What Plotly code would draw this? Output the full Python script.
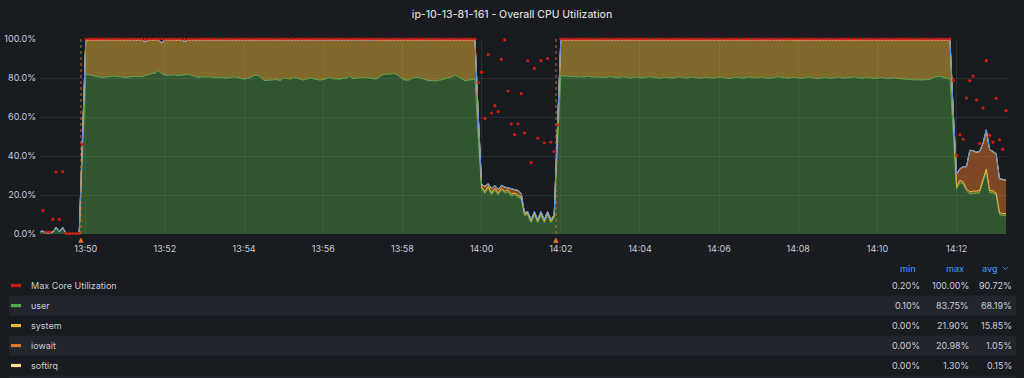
import plotly.graph_objects as go
import pandas as pd

# ---------------- data (5 s samples) ----------------
START = "2023-05-10 13:48:50"
STEP = "5s"

user = [
    # idle 13:48:50 - 13:49:55
    1.0, 1.2, 0.2, 0.4, 0.8, 2.9, 1.0, 2.9, 0.2, 0.1, 0.1, 0.1, 0.1, 40.0,
    # load run 1
    81.9, 81.7, 81.3, 81.1, 80.6, 80.1, 80.5, 80.8, 80.9, 81.0,
    80.7, 80.3, 80.2, 80.5, 80.8, 80.8, 80.6, 80.7, 81.2, 81.9,
    82.2, 82.6, 83.75, 82.2, 81.4, 81.4, 81.6, 81.6, 81.3, 81.4,
    81.7, 81.8, 81.4, 80.9, 80.3, 80.5, 80.6, 80.6, 80.4, 80.2,
    80.3, 80.2, 80.0, 79.9, 80.3, 80.6, 80.3, 80.0, 79.4, 79.7,
    80.6, 81.2, 81.4, 80.5, 78.7, 78.9, 78.9, 79.0, 79.2,
    78.6, 80.0, 79.8, 79.4, 80.2, 79.6, 79.4, 78.9, 79.3, 80.0,
    79.6, 79.2, 78.9, 79.2, 79.6, 80.2, 79.6, 79.4, 79.4, 79.8,
    80.0, 80.9, 79.6, 79.9, 80.3, 80.3, 80.2, 79.9, 79.6, 79.4,
    80.6, 81.6, 82.0, 81.9, 82.2, 82.0, 80.9, 79.4, 78.9, 78.9,
    79.9, 80.3, 80.2, 79.6, 79.4, 78.7, 78.6, 78.4, 78.7, 79.2,
    79.5, 80.0, 80.6, 81.5, 80.6, 79.4, 78.6, 78.9, 79.2, 79.5,
    # gap 1
    48.0, 23.0, 20.8, 23.5, 20.0, 22.5, 20.0, 22.5, 21.0, 21.5,
    19.5, 20.0, 19.0, 18.0, 9.5, 9.8, 5.8, 9.8, 5.8, 9.8,
    5.8, 9.8, 5.8, 8.3, 44.0,
    # load run 2
    81.2, 80.9, 81.0, 80.6, 80.8, 80.4, 80.7, 80.5, 80.9, 80.6,
    80.3, 80.6, 80.4, 80.2, 80.5, 80.8, 80.4, 80.1, 80.3, 80.6,
    80.2, 79.9, 80.3, 80.5, 80.2, 80.0, 80.4, 80.7, 80.3, 80.1,
    79.8, 80.2, 80.4, 80.1, 79.9, 80.3, 80.6, 80.2, 80.0, 80.3,
    80.5, 80.1, 79.8, 80.0, 80.4, 80.2, 79.9, 80.1, 80.5, 80.3,
    80.0, 79.7, 80.1, 80.4, 80.2, 79.9, 80.2, 80.6, 80.3, 80.0,
    80.2, 80.5, 80.1, 79.8, 80.0, 80.3, 80.6, 80.4, 80.1, 79.9,
    80.2, 80.4, 80.0, 79.8, 80.1, 80.5, 80.3, 80.0, 79.7, 80.0,
    80.3, 80.1, 79.8, 80.2, 80.5, 80.2, 79.9, 80.1, 80.4, 80.6,
    80.2, 79.9, 80.1, 80.3, 80.0, 79.7, 79.9, 80.2, 80.0, 79.6,
    79.9, 80.1, 79.8, 79.6, 79.4, 79.3, 79.2, 79.0, 79.1, 78.9,
    79.0, 79.2, 79.4, 80.2, 80.8, 80.8, 80.2, 79.8, 79.6,
    # gap 2
    50.0, 23.0, 26.4, 25.5, 22.1, 20.4, 20.8, 20.8, 21.2, 26.4,
    32.1, 21.2, 21.0, 19.8, 9.9, 9.4, 9.4,
]

system = [
    0.2, 0.3, 0.1, 0.1, 0.3, 0.5, 0.2, 0.5, 0.1, 0.0, 0.0, 0.0, 0.0, 9.5,
    17.5, 17.7, 18.1, 18.3, 18.8, 19.3, 18.9, 18.6, 18.5, 18.4,
    18.7, 19.1, 19.2, 18.9, 18.6, 18.6, 18.8, 18.7, 17.4, 17.5,
    17.2, 16.8, 15.6, 15.8, 18.0, 18.0, 17.8, 17.8, 18.1, 18.0,
    17.0, 17.6, 18.0, 18.5, 19.1, 18.9, 18.8, 18.8, 19.0, 19.2,
    19.1, 19.2, 19.4, 19.5, 19.1, 18.8, 19.1, 19.4, 20.0, 19.7,
    18.8, 18.2, 18.0, 18.9, 20.7, 20.5, 20.5, 20.4, 20.2,
    20.8, 19.4, 19.6, 20.0, 19.2, 19.8, 20.0, 20.5, 20.1, 19.4,
    19.8, 20.2, 20.5, 20.2, 19.8, 19.2, 19.8, 20.0, 20.0, 19.6,
    19.4, 18.5, 19.8, 19.3, 18.8, 18.9, 19.2, 19.3, 19.5, 20.0,
    18.8, 17.8, 17.4, 17.5, 17.2, 17.4, 18.5, 20.0, 20.5, 20.5,
    19.5, 19.1, 19.2, 19.8, 20.0, 20.7, 20.8, 21.0, 20.7, 20.2,
    19.9, 19.4, 18.8, 17.9, 18.8, 20.0, 20.8, 20.5, 20.2, 19.9,
    12.0, 1.0, 1.1, 1.0, 1.1, 1.0, 1.1, 1.0, 1.0, 1.0,
    1.1, 1.0, 1.1, 1.0, 0.8, 0.9, 0.8, 0.9, 0.8, 0.9,
    0.8, 0.9, 0.8, 0.8, 10.5,
    18.2, 18.5, 18.4, 18.8, 18.6, 19.0, 18.7, 18.9, 18.5, 18.8,
    19.1, 18.8, 19.0, 19.2, 18.9, 18.6, 19.0, 19.3, 19.1, 18.8,
    19.2, 19.5, 19.1, 18.9, 19.2, 19.4, 19.0, 18.7, 19.1, 19.3,
    19.6, 19.2, 19.0, 19.3, 19.5, 19.1, 18.8, 19.2, 19.4, 19.1,
    18.9, 19.3, 19.6, 19.4, 19.0, 19.2, 19.5, 19.3, 18.9, 19.1,
    19.4, 19.7, 19.3, 19.0, 19.2, 19.5, 19.2, 18.8, 19.1, 19.4,
    19.2, 18.9, 19.3, 19.6, 19.4, 19.1, 18.8, 19.0, 19.3, 19.5,
    19.2, 19.0, 19.4, 19.6, 19.3, 18.9, 19.1, 19.4, 19.7, 19.4,
    19.1, 19.3, 19.6, 19.2, 18.9, 19.2, 19.5, 19.3, 19.0, 18.8,
    19.2, 19.5, 19.3, 19.1, 19.4, 19.7, 19.5, 19.2, 19.4, 19.8,
    19.5, 19.3, 19.6, 19.8, 20.0, 20.1, 20.2, 20.4, 20.3, 20.5,
    20.4, 20.2, 20.0, 19.2, 18.6, 18.6, 19.2, 19.6, 19.8,
    11.5, 1.1, 1.2, 1.2, 1.2, 1.2, 1.2, 1.2, 1.2, 1.2,
    1.3, 1.2, 1.2, 1.2, 1.1, 1.1, 1.1,
]

iowait = [
    0.0, 0.0, 0.0, 0.0, 0.0, 0.0, 0.0, 0.0, 0.0, 0.0, 0.0, 0.0, 0.0, 0.0,
    0.0, 0.0, 0.0, 0.0, 0.0, 0.0, 0.0, 0.0, 0.0, 0.0,
    0.0, 0.0, 0.0, 0.0, 0.0, 0.0, 0.0, 0.0, 0.0, 0.0,
    0.0, 0.0, 0.0, 0.0, 0.0, 0.0, 0.0, 0.0, 0.0, 0.0,
    0.0, 0.0, 0.0, 0.0, 0.0, 0.0, 0.0, 0.0, 0.0, 0.0,
    0.0, 0.0, 0.0, 0.0, 0.0, 0.0, 0.0, 0.0, 0.0, 0.0,
    0.0, 0.0, 0.0, 0.0, 0.0, 0.0, 0.0, 0.0, 0.0,
    0.0, 0.0, 0.0, 0.0, 0.0, 0.0, 0.0, 0.0, 0.0, 0.0,
    0.0, 0.0, 0.0, 0.0, 0.0, 0.0, 0.0, 0.0, 0.0, 0.0,
    0.0, 0.0, 0.0, 0.0, 0.0, 0.0, 0.0, 0.0, 0.0, 0.0,
    0.0, 0.0, 0.0, 0.0, 0.0, 0.0, 0.0, 0.0, 0.0, 0.0,
    0.0, 0.0, 0.0, 0.0, 0.0, 0.0, 0.0, 0.0, 0.0, 0.0,
    0.0, 0.0, 0.0, 0.0, 0.0, 0.0, 0.0, 0.0, 0.0, 0.0,
    0.3, 1.2, 2.3, 1.1, 2.1, 1.2, 1.6, 1.2, 1.9, 1.0,
    2.4, 1.5, 2.0, 1.7, 0.4, 0.6, 0.6, 0.6, 0.6, 0.6,
    0.6, 0.6, 0.6, 0.6, 0.2,
    0.0, 0.0, 0.0, 0.0, 0.0, 0.0, 0.0, 0.0, 0.0, 0.0,
    0.0, 0.0, 0.0, 0.0, 0.0, 0.0, 0.0, 0.0, 0.0, 0.0,
    0.0, 0.0, 0.0, 0.0, 0.0, 0.0, 0.0, 0.0, 0.0, 0.0,
    0.0, 0.0, 0.0, 0.0, 0.0, 0.0, 0.0, 0.0, 0.0, 0.0,
    0.0, 0.0, 0.0, 0.0, 0.0, 0.0, 0.0, 0.0, 0.0, 0.0,
    0.0, 0.0, 0.0, 0.0, 0.0, 0.0, 0.0, 0.0, 0.0, 0.0,
    0.0, 0.0, 0.0, 0.0, 0.0, 0.0, 0.0, 0.0, 0.0, 0.0,
    0.0, 0.0, 0.0, 0.0, 0.0, 0.0, 0.0, 0.0, 0.0, 0.0,
    0.0, 0.0, 0.0, 0.0, 0.0, 0.0, 0.0, 0.0, 0.0, 0.0,
    0.0, 0.0, 0.0, 0.0, 0.0, 0.0, 0.0, 0.0, 0.0, 0.0,
    0.0, 0.0, 0.0, 0.0, 0.0, 0.0, 0.0, 0.0, 0.0, 0.0,
    0.0, 0.0, 0.0, 0.0, 0.0, 0.0, 0.0, 0.0, 0.0,
    0.5, 6.5, 5.6, 7.5, 11.0, 20.98, 20.5, 19.7, 19.7, 18.6,
    18.8, 20.8, 19.8, 19.9, 17.1, 17.2, 16.8,
]

softirq = [
    0.0, 0.0, 0.0, 0.0, 0.0, 0.0, 0.0, 0.0, 0.0, 0.0, 0.0, 0.0, 0.0, 0.1,
    0.1, 0.2, 0.1, 0.1, 0.2, 0.1, 0.1, 0.2, 0.1, 0.1,
    0.2, 0.1, 0.1, 0.2, 0.1, 0.1, 0.2, 0.1, 0.1, 0.2,
    0.1, 0.1, 0.2, 0.1, 0.1, 0.2, 0.1, 0.1, 0.2, 0.1,
    0.1, 0.2, 0.1, 0.1, 0.2, 0.1, 0.1, 0.2, 0.1, 0.1,
    0.2, 0.1, 0.1, 0.2, 0.1, 0.1, 0.2, 0.1, 0.1, 0.2,
    0.1, 0.1, 0.2, 0.1, 0.1, 0.2, 0.1, 0.1, 0.2,
    0.1, 0.1, 0.2, 0.1, 0.1, 0.2, 0.1, 0.1, 0.2, 0.1,
    0.1, 0.2, 0.1, 0.1, 0.2, 0.1, 0.1, 0.2, 0.1, 0.1,
    0.2, 0.1, 0.1, 0.2, 0.1, 0.1, 0.2, 0.1, 0.1, 0.2,
    0.1, 0.1, 0.2, 0.1, 0.1, 0.2, 0.1, 0.1, 0.2, 0.1,
    0.1, 0.2, 0.1, 0.1, 0.2, 0.1, 0.1, 0.2, 0.1, 0.1,
    0.2, 0.1, 0.1, 0.2, 0.1, 0.1, 0.2, 0.1, 0.1, 0.2,
    0.2, 0.2, 0.2, 0.2, 0.2, 0.2, 0.2, 0.2, 0.2, 0.2,
    0.2, 0.2, 0.2, 0.2, 0.2, 0.2, 0.2, 0.2, 0.2, 0.2,
    0.2, 0.2, 0.2, 0.2, 0.2,
    0.1, 0.2, 0.1, 0.1, 0.2, 0.1, 0.1, 0.2, 0.1, 0.1,
    0.2, 0.1, 0.1, 0.2, 0.1, 0.1, 0.2, 0.1, 0.1, 0.2,
    0.1, 0.1, 0.2, 0.1, 0.1, 0.2, 0.1, 0.1, 0.2, 0.1,
    0.1, 0.2, 0.1, 0.1, 0.2, 0.1, 0.1, 0.2, 0.1, 0.1,
    0.2, 0.1, 0.1, 0.2, 0.1, 0.1, 0.2, 0.1, 0.1, 0.2,
    0.1, 0.1, 0.2, 0.1, 0.1, 0.2, 0.1, 0.1, 0.2, 0.1,
    0.1, 0.2, 0.1, 0.1, 0.2, 0.1, 0.1, 0.2, 0.1, 0.1,
    0.2, 0.1, 0.1, 0.2, 0.1, 0.1, 0.2, 0.1, 0.1, 0.2,
    0.1, 0.1, 0.2, 0.1, 0.1, 0.2, 0.1, 0.1, 0.2, 0.1,
    0.1, 0.2, 0.1, 0.1, 0.2, 0.1, 0.1, 0.2, 0.1, 0.1,
    0.2, 0.1, 0.1, 0.2, 0.1, 0.1, 0.2, 0.1, 0.1, 0.2,
    0.1, 0.1, 0.2, 0.1, 0.1, 0.2, 0.1, 0.1, 0.2,
    0.2, 0.3, 0.3, 0.3, 0.3, 0.3, 0.3, 0.3, 0.3, 0.4,
    1.3, 0.3, 0.3, 0.3, 0.3, 0.3, 0.3,
]

steal = [
    0.0, 0.0, 0.0, 0.0, 0.0, 0.0, 0.0, 0.0, 0.0, 0.0, 0.0, 0.0, 0.0, 0.1,
    0.1, 0.1, 0.1, 0.1, 0.1, 0.1, 0.1, 0.1, 0.1, 0.1,
    0.1, 0.1, 0.1, 0.1, 0.1, 0.1, 0.1, 0.1, 0.1, 0.1,
    0.1, 0.1, 0.1, 0.1, 0.1, 0.1, 0.1, 0.1, 0.1, 0.1,
    0.1, 0.1, 0.1, 0.1, 0.1, 0.1, 0.1, 0.1, 0.1, 0.1,
    0.1, 0.1, 0.1, 0.1, 0.1, 0.1, 0.1, 0.1, 0.1, 0.1,
    0.1, 0.1, 0.1, 0.1, 0.1, 0.1, 0.1, 0.1, 0.1,
    0.1, 0.1, 0.1, 0.1, 0.1, 0.1, 0.1, 0.1, 0.1, 0.1,
    0.1, 0.1, 0.1, 0.1, 0.1, 0.1, 0.1, 0.1, 0.1, 0.1,
    0.1, 0.1, 0.1, 0.1, 0.1, 0.1, 0.1, 0.1, 0.1, 0.1,
    0.1, 0.1, 0.1, 0.1, 0.1, 0.1, 0.1, 0.1, 0.1, 0.1,
    0.1, 0.1, 0.1, 0.1, 0.1, 0.1, 0.1, 0.1, 0.1, 0.1,
    0.1, 0.1, 0.1, 0.1, 0.1, 0.1, 0.1, 0.1, 0.1, 0.1,
    0.1, 0.1, 0.1, 0.1, 0.1, 0.1, 0.1, 0.1, 0.1, 0.1,
    0.1, 0.1, 0.1, 0.1, 0.1, 0.1, 0.1, 0.1, 0.1, 0.1,
    0.1, 0.1, 0.1, 0.1, 0.1,
    0.1, 0.1, 0.1, 0.1, 0.1, 0.1, 0.1, 0.1, 0.1, 0.1,
    0.1, 0.1, 0.1, 0.1, 0.1, 0.1, 0.1, 0.1, 0.1, 0.1,
    0.1, 0.1, 0.1, 0.1, 0.1, 0.1, 0.1, 0.1, 0.1, 0.1,
    0.1, 0.1, 0.1, 0.1, 0.1, 0.1, 0.1, 0.1, 0.1, 0.1,
    0.1, 0.1, 0.1, 0.1, 0.1, 0.1, 0.1, 0.1, 0.1, 0.1,
    0.1, 0.1, 0.1, 0.1, 0.1, 0.1, 0.1, 0.1, 0.1, 0.1,
    0.1, 0.1, 0.1, 0.1, 0.1, 0.1, 0.1, 0.1, 0.1, 0.1,
    0.1, 0.1, 0.1, 0.1, 0.1, 0.1, 0.1, 0.1, 0.1, 0.1,
    0.1, 0.1, 0.1, 0.1, 0.1, 0.1, 0.1, 0.1, 0.1, 0.1,
    0.1, 0.1, 0.1, 0.1, 0.1, 0.1, 0.1, 0.1, 0.1, 0.1,
    0.1, 0.1, 0.1, 0.1, 0.1, 0.1, 0.1, 0.1, 0.1, 0.1,
    0.1, 0.1, 0.1, 0.1, 0.1, 0.1, 0.1, 0.1, 0.1,
    0.1, 0.1, 0.1, 0.1, 0.1, 0.1, 0.1, 0.1, 0.1, 0.1,
    0.1, 0.1, 0.1, 0.1, 0.1, 0.1, 0.1,
]

max_core = [
    7.5, 12.0, 1.0, 1.0, 7.5, 31.8, 7.5, 32.0, 0.3, 0.2, 0.3, 0.2, 0.3, 46.0,
    100.0, 100.0, 100.0, 100.0, 100.0, 100.0, 100.0, 100.0, 100.0, 100.0,
    100.0, 100.0, 100.0, 100.0, 100.0, 100.0, 100.0, 100.0, 100.0, 100.0,
    100.0, 100.0, 100.0, 100.0, 100.0, 100.0, 100.0, 100.0, 100.0, 100.0,
    100.0, 100.0, 100.0, 100.0, 100.0, 100.0, 100.0, 100.0, 100.0, 100.0,
    100.0, 100.0, 100.0, 100.0, 100.0, 100.0, 100.0, 100.0, 100.0, 100.0,
    100.0, 100.0, 100.0, 100.0, 100.0, 100.0, 100.0, 100.0, 100.0,
    100.0, 100.0, 100.0, 100.0, 100.0, 100.0, 100.0, 100.0, 100.0, 100.0,
    100.0, 100.0, 100.0, 100.0, 100.0, 100.0, 100.0, 100.0, 100.0, 100.0,
    100.0, 100.0, 100.0, 100.0, 100.0, 100.0, 100.0, 100.0, 100.0, 100.0,
    100.0, 100.0, 100.0, 100.0, 100.0, 100.0, 100.0, 100.0, 100.0, 100.0,
    100.0, 100.0, 100.0, 100.0, 100.0, 100.0, 100.0, 100.0, 100.0, 100.0,
    100.0, 100.0, 100.0, 100.0, 100.0, 100.0, 100.0, 100.0, 100.0, 100.0,
    77.7, 83.0, 59.3, 92.0, 62.0, 65.8, 62.8, 89.6, 99.5, 73.3,
    56.5, 51.0, 56.5, 72.0, 51.9, 88.8, 36.7, 84.9, 49.1, 88.9,
    46.8, 90.0, 47.1, 42.3, 56.0,
    100.0, 100.0, 100.0, 100.0, 100.0, 100.0, 100.0, 100.0, 100.0, 100.0,
    100.0, 100.0, 100.0, 100.0, 100.0, 100.0, 100.0, 100.0, 100.0, 100.0,
    100.0, 100.0, 100.0, 100.0, 100.0, 100.0, 100.0, 100.0, 100.0, 100.0,
    100.0, 100.0, 100.0, 100.0, 100.0, 100.0, 100.0, 100.0, 100.0, 100.0,
    100.0, 100.0, 100.0, 100.0, 100.0, 100.0, 100.0, 100.0, 100.0, 100.0,
    100.0, 100.0, 100.0, 100.0, 100.0, 100.0, 100.0, 100.0, 100.0, 100.0,
    100.0, 100.0, 100.0, 100.0, 100.0, 100.0, 100.0, 100.0, 100.0, 100.0,
    100.0, 100.0, 100.0, 100.0, 100.0, 100.0, 100.0, 100.0, 100.0, 100.0,
    100.0, 100.0, 100.0, 100.0, 100.0, 100.0, 100.0, 100.0, 100.0, 100.0,
    100.0, 100.0, 100.0, 100.0, 100.0, 100.0, 100.0, 100.0, 100.0, 100.0,
    100.0, 100.0, 100.0, 100.0, 100.0, 100.0, 100.0, 100.0, 100.0, 100.0,
    100.0, 100.0, 100.0, 100.0, 100.0, 100.0, 100.0, 100.0, 100.0,
    78.9, 40.3, 50.9, 48.6, 69.7, 78.7, 81.0, 68.7, 46.4, 64.6,
    88.9, 50.7, 47.1, 69.6, 48.3, 43.5, 63.3,
]

legend_names = ["Max Core Utilization", "user", "system", "iowait", "softirq"]
legend_min = ["0.20%", "0.10%", "0.00%", "0.00%", "0.00%"]
legend_max = ["100.00%", "83.75%", "21.90%", "20.98%", "1.30%"]
legend_avg = ["90.72%", "68.19%", "15.85%", "1.05%", "0.15%"]

annotation_times = ["2023-05-10 13:49:52.7", "2023-05-10 14:01:52.8"]
x_range = ["2023-05-10 13:48:50.6", "2023-05-10 14:13:16.4"]
TITLE = "ip-10-13-81-161 - Overall CPU Utilization"

# ---------------- styling ----------------
BG = "#181b1f"
STRIPE = "#22252b"
TEXT = "#ccccdc"
GRID = "rgba(204,204,220,0.10)"
FONT = "Inter"

RED = "#d11b10"
series = [
    ("user", user, "#5fa852", "rgba(86,166,75,0.42)"),
    ("system", system, "#eab839", "rgba(234,184,57,0.50)"),
    ("iowait", iowait, "#e0752d", "rgba(224,117,45,0.50)"),
    ("softirq", softirq, "#f8e08e", "rgba(248,224,142,0.40)"),
    ("steal", steal, "#4e8fdb", "rgba(78,143,219,0.30)"),
]
legend_colors = [RED, "#56a64b", "#eab839", "#e0752d", "#f8e08e"]

W, H = 1024, 378
PL, PR, PT, PB = 40, 1007, 39, 234.3


def px(xpix):
    return (xpix - PL) / (PR - PL)


def py(ypix):
    return (PB - ypix) / (PB - PT)


times = pd.date_range(START, periods=len(user), freq=STEP)

fig = go.Figure()
for name, vals, lc, fc in series:
    fig.add_trace(go.Scatter(
        x=times, y=vals, name=name, stackgroup="cpu", mode="lines",
        line=dict(color=lc, width=1), fillcolor=fc, hoverinfo="skip",
    ))

fig.add_trace(go.Scatter(
    x=times, y=max_core, name="Max Core Utilization", mode="markers",
    marker=dict(color=RED, size=3.2), cliponaxis=False, hoverinfo="skip",
))

shapes = []
annotations = []

# annotation markers (vertical dotted lines + triangles)
for t in annotation_times:
    shapes.append(dict(type="line", xref="x", yref="y domain", x0=t, x1=t, y0=0, y1=1,
                       line=dict(color="rgba(224,117,45,0.85)", width=1, dash="dot"),
                       layer="above"))
    annotations.append(dict(x=t, y=0, xref="x", yref="y", text="▲", showarrow=False,
                            yanchor="top", yshift=0,
                            font=dict(size=7, color="#e0752d", family="DejaVu Sans")))

# legend table
row_y = [286, 306, 326, 346, 366]
for yy in [306, 346, 386]:
    shapes.append(dict(type="rect", xref="paper", yref="paper", layer="below",
                       x0=px(9), x1=px(1016), y0=py(yy - 10), y1=py(yy + 10),
                       fillcolor=STRIPE, line=dict(width=0)))

hdr_font = dict(family=FONT, size=9, color="#3d8fe6", weight=500)
for label, xr in [("min", 917.5), ("max", 966), ("avg", 1000)]:
    annotations.append(dict(x=px(xr), y=py(269), xref="paper", yref="paper", text=label,
                            showarrow=False, xanchor="right", yanchor="middle", font=hdr_font))
shapes.append(dict(type="path", xref="paper", yref="paper",
                   path=f"M {px(1003)},{py(267.5)} L {px(1005.5)},{py(270)} L {px(1008)},{py(267.5)}",
                   line=dict(color="#3d8fe6", width=1)))

row_font = dict(family=FONT, size=9, color=TEXT)
for i, yy in enumerate(row_y):
    shapes.append(dict(type="rect", xref="paper", yref="paper",
                       x0=px(11), x1=px(21), y0=py(yy - 1.6), y1=py(yy + 1.6),
                       fillcolor=legend_colors[i], line=dict(width=0)))
    annotations.append(dict(x=px(29), y=py(yy), xref="paper", yref="paper",
                            text=legend_names[i], showarrow=False, xanchor="left",
                            yanchor="middle", font=row_font))
    for vals, xr in [(legend_min, 921.5), (legend_max, 970.5), (legend_avg, 1014)]:
        annotations.append(dict(x=px(xr), y=py(yy), xref="paper", yref="paper",
                                text=vals[i], showarrow=False, xanchor="right",
                                yanchor="middle", font=row_font))

fig.update_layout(
    width=W, height=H,
    paper_bgcolor=BG, plot_bgcolor=BG,
    margin=dict(l=PL, r=W - PR, t=PT, b=H - PB, pad=0, autoexpand=False),
    showlegend=False,
    font=dict(family=FONT, size=9, color=TEXT),
    title=dict(text=TITLE, x=0.5, xref="container", xanchor="center",
               y=1 - 14 / H, yref="container", yanchor="middle",
               font=dict(family=FONT, size=10.5, color="#d8d9da", weight=500)),
    xaxis=dict(type="date", range=x_range, tickformat="%H:%M", dtick=120000,
               tick0="2023-05-10 13:50:00", showgrid=True, gridcolor=GRID,
               gridwidth=1, zeroline=False, showline=False, ticks="", automargin=False,
               tickfont=dict(family=FONT, size=9, color=TEXT), ticklabelstandoff=8),
    yaxis=dict(range=[0, 100], dtick=20, tickformat=".1f", ticksuffix="%",
               showgrid=True, gridcolor=GRID, gridwidth=1, zeroline=False,
               showline=False, ticks="", automargin=False,
               tickfont=dict(family=FONT, size=9, color=TEXT), ticklabelstandoff=3),
    shapes=shapes,
    annotations=annotations,
)

fig.write_html(
    "out.html",
    config={"displayModeBar": False, "staticPlot": True},
    post_script="document.body.style.margin='0px';document.body.style.overflow='hidden';",
)
